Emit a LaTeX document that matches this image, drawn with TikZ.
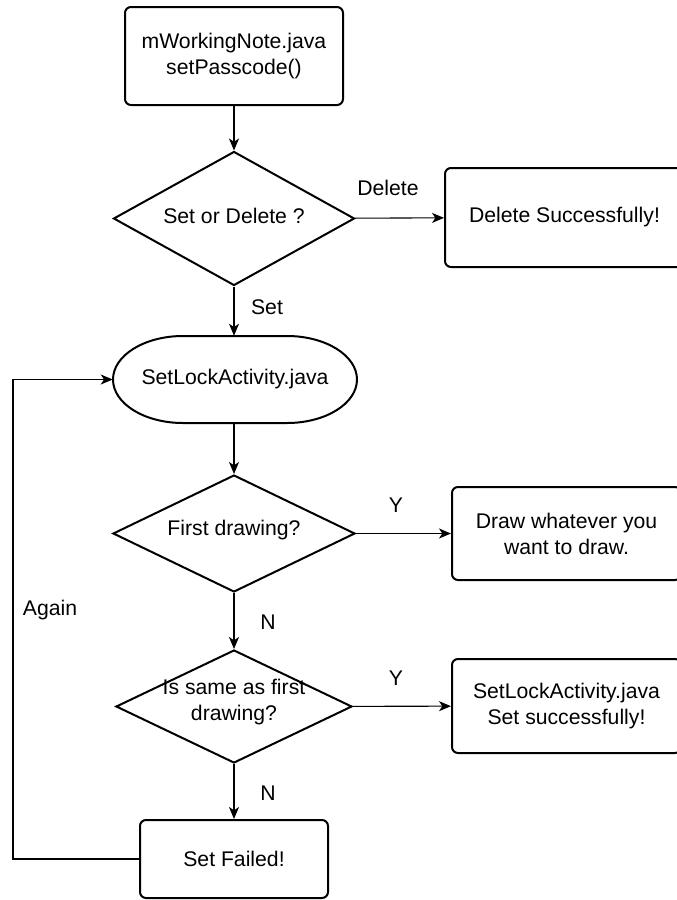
\documentclass[tikz,border=0pt]{standalone}
\usepackage{fontspec}
\setmainfont{Liberation Sans}
\usetikzlibrary{shapes.geometric,arrows.meta}

\tikzset{
  base/.style={font=\fontsize{15.9}{19.5}\selectfont, align=center, text=black},
  procbox/.style={base, draw, line width=1.5pt, rounded corners=4.5pt, inner sep=0pt},
  decision/.style={base, draw, shape=diamond, line width=1.5pt, inner sep=0pt},
  terminal/.style={base, inner sep=0pt},
  outline/.style={line width=1.5pt},
  flow/.style={line width=0.8pt, -{Stealth[length=9pt,width=7.5pt,inset=2.5pt]}},
  edgelabel/.style={base, inner sep=0pt},
}

\begin{document}
\begin{tikzpicture}[x=0.75pt,y=-0.75pt]
  \useasboundingbox (0,0) rectangle (676,900);

  % main column
  \node[procbox, minimum width=218*0.75pt, minimum height=98*0.75pt] (start) at (234,56)
    {mWorkingNote.java\\setPasscode()};
  \node[decision, minimum width=241*0.75pt, minimum height=134*0.75pt] (choice) at (234,218.5) {};
  \node[base] (choicetxt) at (234,216) {Set or Delete ?};
  \node[procbox, minimum width=239*0.75pt, minimum height=99*0.75pt] (deleted) at (564.5,217.5)
    {Delete Successfully!};

  % terminal: flat top and bottom with half-elliptic ends
  \node[terminal, minimum width=244*0.75pt, minimum height=87*0.75pt] (lockact) at (235,379.5)
    {SetLockActivity.java};
  \draw[outline] (lockact.center) ++(-52,-43.5) -- ++(104,0)
    arc[start angle=-90, end angle=90, x radius=70, y radius=43.5]
    -- ++(-104,0)
    arc[start angle=90, end angle=270, x radius=70, y radius=43.5] -- cycle;

  \node[decision, minimum width=242*0.75pt, minimum height=117*0.75pt] (first) at (234,533.5) {};
  \node[base] (firsttxt) at (234,530) {First drawing?};
  \node[procbox, minimum width=229*0.75pt, minimum height=93*0.75pt] (drawany) at (566.5,533.5)
    {Draw whatever you\\want to draw.};
  \node[decision, minimum width=236*0.75pt, minimum height=113*0.75pt] (same) at (234,706.5) {};
  \node[base] (sametxt) at (234,702) {Is same as first\\drawing?};
  \node[procbox, minimum width=229*0.75pt, minimum height=94*0.75pt] (setok) at (566.5,706)
    {SetLockActivity.java\\Set successfully!};
  \node[procbox, minimum width=188*0.75pt, minimum height=78*0.75pt] (failed) at (234,859)
    {Set Failed!};

  % connectors
  \draw[flow] (start) -- (choice);
  \draw[flow] (choice) -- (deleted);
  \draw[flow] (choice) -- (choice |- lockact.north);
  \draw[flow] (choice |- lockact.south) -- (first);
  \draw[flow] (first) -- (drawany);
  \draw[flow] (first) -- (same);
  \draw[flow] (same) -- (setok);
  \draw[flow] (same) -- (failed);
  \coordinate (loopturn) at (13,379.5);
  \draw[flow] (failed.west) -| (loopturn) -- (lockact.west);

  % edge labels
  \node[edgelabel] (lbldel) at (388,188) {Delete};
  \node[edgelabel] (lblset) at (267,307) {Set};
  \node[edgelabel] (lbly1) at (396,505) {Y};
  \node[edgelabel] (lbln1) at (268,622) {N};
  \node[edgelabel] (lbly2) at (396,678) {Y};
  \node[edgelabel] (lbln2) at (268,793) {N};
  \node[edgelabel] (lblagain) at (50,610) {Again};
\end{tikzpicture}
\end{document}
